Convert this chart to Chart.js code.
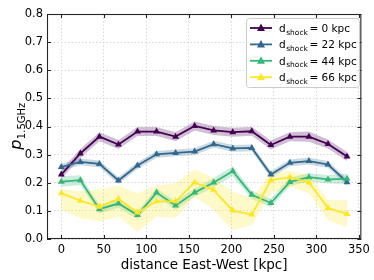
<!DOCTYPE html>
<html><head><meta charset="utf-8">
<script src="https://cdn.jsdelivr.net/npm/chart.js@4/dist/chart.umd.min.js"></script>
<style>html,body{margin:0;padding:0;background:#fff;}#wrap{width:374px;height:280px;position:relative;}</style>
</head><body><div id="wrap"><canvas id="c" width="374" height="280"></canvas></div>
<script>
const xs = [0,22.4,44.8,67.2,89.6,112,134.4,156.8,179.2,201.6,224,246.4,268.8,291.2,313.6,336];
const labels = ["0 kpc","22 kpc","44 kpc","66 kpc"];
const purple = [0.229,0.304,0.364,0.336,0.382,0.382,0.364,0.402,0.386,0.380,0.383,0.334,0.364,0.364,0.338,0.293];
const purpleErr = [0.016,0.016,0.016,0.016,0.016,0.016,0.016,0.016,0.016,0.016,0.016,0.016,0.016,0.018,0.016,0.016];
const blue = [0.256,0.274,0.267,0.208,0.261,0.301,0.306,0.311,0.337,0.322,0.324,0.229,0.271,0.277,0.265,0.202];
const blueErr = [0.012,0.012,0.012,0.012,0.012,0.012,0.012,0.012,0.012,0.012,0.012,0.012,0.012,0.012,0.012,0.012];
const green = [0.204,0.209,0.106,0.126,0.085,0.165,0.119,0.165,0.201,0.241,0.157,0.128,0.203,0.220,0.212,0.214];
const greenErr = [0.018,0.018,0.015,0.015,0.015,0.015,0.015,0.015,0.016,0.018,0.015,0.015,0.015,0.015,0.015,0.018];
const yellow = [0.163,0.136,0.115,0.142,0.094,0.134,0.134,0.201,0.174,0.101,0.087,0.209,0.220,0.201,0.110,0.089];
const yellowLow = [0.103,0.074,0.062,0.080,0.026,0.080,0.074,0.151,0.103,0.032,0.050,0.163,0.186,0.163,0.068,0.040];
const yellowHigh = [0.177,0.170,0.177,0.189,0.163,0.189,0.198,0.248,0.217,0.168,0.146,0.234,0.243,0.228,0.139,0.139];
const xTicks = [0,50,100,150,200,250,300,350];
const yTicks = [0,0.1,0.2,0.3,0.4,0.5,0.6,0.7,0.8];

const colors = ['#440154','#31688e','#35b779','#fde725'];
const bandColors = ['rgba(68,1,84,0.25)','rgba(49,104,142,0.25)','rgba(53,183,121,0.25)','rgba(253,231,37,0.25)'];
const series = [
  {v: purple, lo: purple.map((v,i)=>v-purpleErr[i]), hi: purple.map((v,i)=>v+purpleErr[i])},
  {v: blue, lo: blue.map((v,i)=>v-blueErr[i]), hi: blue.map((v,i)=>v+blueErr[i])},
  {v: green, lo: green.map((v,i)=>v-greenErr[i]), hi: green.map((v,i)=>v+greenErr[i])},
  {v: yellow, lo: yellowLow, hi: yellowHigh}
];
const pts = arr => arr.map((y,i)=>({x: xs[i], y}));
const datasets = [];
series.forEach((s,k)=>{
  datasets.push({data: pts(s.hi), borderWidth:0, pointRadius:0, showLine:true, fill:'+1', backgroundColor: bandColors[k], borderColor:'transparent', order: 20 - k*2});
  datasets.push({data: pts(s.lo), borderWidth:0, pointRadius:0, showLine:true, fill:false, borderColor:'transparent', order: 20 - k*2 - 1});
});
series.forEach((s,k)=>{
  datasets.push({label: labels[k], data: pts(s.v), borderColor: colors[k], backgroundColor: colors[k], borderWidth: 1.8, pointStyle:'triangle', pointRadius: 4, pointBorderWidth: 0, showLine:true, fill:false, order: 8 - k});
});

const FONT = '"DejaVu Sans", sans-serif';
const decor = {
  id: 'decor',
  afterDraw(chart) {
    const ctx = chart.ctx, ca = chart.chartArea;
    const xs_ = chart.scales.x, ys_ = chart.scales.y;
    ctx.save();
    ctx.strokeStyle = '#262626'; ctx.lineWidth = 1.1;
    ctx.strokeRect(ca.left + 0.5, ca.top + 0.5, ca.right - ca.left - 1, ca.bottom - ca.top - 1);
    ctx.beginPath();
    xTicks.forEach(t => { const p = Math.round(xs_.getPixelForValue(t)) + 0.5;
      ctx.moveTo(p, ca.bottom); ctx.lineTo(p, ca.bottom - 4);
      ctx.moveTo(p, ca.top); ctx.lineTo(p, ca.top + 4); });
    yTicks.forEach(t => { const p = Math.round(ys_.getPixelForValue(t)) + 0.5;
      ctx.moveTo(ca.left, p); ctx.lineTo(ca.left + 4, p);
      ctx.moveTo(ca.right, p); ctx.lineTo(ca.right - 4, p); });
    ctx.stroke();
    ctx.fillStyle = '#000';
    ctx.font = '13.5px ' + FONT; ctx.textAlign = 'center'; ctx.textBaseline = 'middle';
    ctx.fillText('distance East-West [kpc]', (ca.left + ca.right) / 2, 265);
    ctx.save();
    ctx.translate(17, (ca.top + ca.bottom) / 2);
    ctx.rotate(-Math.PI / 2);
    ctx.textBaseline = 'alphabetic'; ctx.textAlign = 'left';
    ctx.font = 'italic 16px ' + FONT; const wp = ctx.measureText('p').width;
    ctx.font = '10px ' + FONT; const ws = ctx.measureText('1.5GHz').width;
    const x0 = -(wp + ws) / 2;
    ctx.font = 'italic 16px ' + FONT; ctx.fillText('p', x0, 4);
    ctx.font = '10px ' + FONT; ctx.fillText('1.5GHz', x0 + wp + 0.5, 7.5);
    ctx.restore();
    const lx = 246, ly = 18, lw = 113, lh = 69;
    ctx.beginPath();
    ctx.roundRect(lx + 0.5, ly + 0.5, lw, lh, 3);
    ctx.fillStyle = 'rgba(255,255,255,0.85)'; ctx.fill();
    ctx.strokeStyle = '#cccccc'; ctx.lineWidth = 1; ctx.stroke();
    labels.forEach((lab, k) => {
      const y = 28 + k * 16.4;
      ctx.strokeStyle = colors[k]; ctx.lineWidth = 1.8;
      ctx.beginPath(); ctx.moveTo(250, y); ctx.lineTo(272, y); ctx.stroke();
      ctx.fillStyle = colors[k];
      ctx.beginPath(); ctx.moveTo(261, y - 4.5); ctx.lineTo(265, y + 3); ctx.lineTo(257, y + 3); ctx.closePath(); ctx.fill();
      ctx.fillStyle = '#000'; ctx.textBaseline = 'alphabetic'; ctx.textAlign = 'left';
      ctx.font = '10.5px ' + FONT;
      let tx = 279; const by = y + 4;
      ctx.fillText('d', tx, by); tx += ctx.measureText('d').width + 0.5;
      ctx.font = '7.5px ' + FONT;
      ctx.fillText('shock', tx, by + 2.5); tx += ctx.measureText('shock').width + 1.5;
      ctx.font = '10.5px ' + FONT;
      ctx.fillText('= ' + lab, tx, by);
    });
    ctx.restore();
  }
};

new Chart(document.getElementById('c'), {
  type: 'scatter',
  data: { datasets },
  plugins: [decor],
  options: {
    responsive: false, animation: false, devicePixelRatio: 1,
    layout: { padding: { top: 14, right: 10, left: 0, bottom: 0 } },
    plugins: { legend: { display: false }, tooltip: { enabled: false }, filler: { propagate: false } },
    elements: { line: { tension: 0 } },
    scales: {
      x: {
        type: 'linear', min: -16.8, max: 352.8,
        afterBuildTicks: s => { s.ticks = xTicks.map(v => ({ value: v })); },
        afterFit: s => { s.height = 41; },
        grid: { color: '#cfcfcf', lineWidth: 0.8, drawTicks: false },
        border: { display: false, dash: [1.5, 2] },
        ticks: { color: '#000', font: { family: FONT, size: 11.5 }, padding: 4, maxRotation: 0, callback: v => String(v) }
      },
      y: {
        type: 'linear', min: 0, max: 0.8,
        afterBuildTicks: s => { s.ticks = yTicks.map(v => ({ value: v })); },
        afterFit: s => { s.width = 47; },
        grid: { color: '#cfcfcf', lineWidth: 0.8, drawTicks: false },
        border: { display: false, dash: [1.5, 2] },
        ticks: { color: '#000', font: { family: FONT, size: 11.5 }, padding: 4, callback: v => v.toFixed(1) }
      }
    }
  }
});
</script></body></html>
